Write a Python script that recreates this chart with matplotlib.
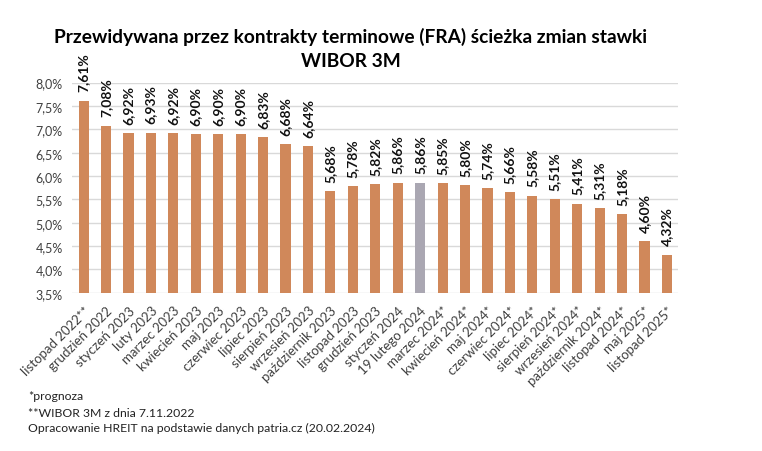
import matplotlib.pyplot as plt

plt.rcParams['font.family'] = ['Lato', 'DejaVu Sans']

# dane
labels = ['listopad 2022**', 'grudzień 2022', 'styczeń 2023', 'luty 2023', 'marzec 2023',
          'kwiecień 2023', 'maj 2023', 'czerwiec 2023', 'lipiec 2023', 'sierpień 2023',
          'wrzesień 2023', 'październik 2023', 'listopad 2023', 'grudzień 2023',
          'styczeń 2024', '19 lutego 2024', 'marzec 2024*', 'kwiecień 2024*', 'maj 2024*',
          'czerwiec 2024*', 'lipiec 2024*', 'sierpień 2024*', 'wrzesień 2024*',
          'październik 2024*', 'listopad 2024*', 'maj 2025*', 'listopad 2025*']
values = [7.61, 7.08, 6.92, 6.93, 6.92, 6.90, 6.90, 6.90, 6.83, 6.68, 6.64, 5.68, 5.78,
          5.82, 5.86, 5.86, 5.85, 5.80, 5.74, 5.66, 5.58, 5.51, 5.41, 5.31, 5.18, 4.60, 4.32]
highlight = '19 lutego 2024'
yticks = [3.5, 4.0, 4.5, 5.0, 5.5, 6.0, 6.5, 7.0, 7.5, 8.0]

orange = '#D0885A'
grey = '#AAA7B2'
colors = [grey if l == highlight else orange for l in labels]

fig = plt.figure(figsize=(7.62, 4.52), dpi=100, facecolor='white')
ax = fig.add_axes([0.095, 0.35, 0.795, 0.465])

x = range(len(values))
ax.bar(x, values, width=0.45, color=colors, zorder=2)
ax.set_ylim(3.5, 8.0)
ax.set_xlim(-0.5, len(values) - 0.5)
ax.set_yticks(yticks)
ax.set_yticklabels([('%.1f%%' % t).replace('.', ',') for t in yticks], fontsize=9, color='#404040')
ax.set_xticks(list(x))
ax.set_xticklabels(labels, rotation=45, ha='right', rotation_mode='anchor', fontsize=9.5, color='#404040')
ax.tick_params(axis='y', length=0, pad=7)
ax.tick_params(axis='x', length=0, pad=8)
ax.grid(axis='y', color='#D9D9D9', linewidth=1, zorder=0)
for s in ax.spines.values():
    s.set_visible(False)

for i, v in enumerate(values):
    ax.text(i, v + 0.2, ('%.2f%%' % v).replace('.', ','), rotation=90, ha='center', va='bottom',
            fontsize=10, fontweight='bold', color='#111111', clip_on=False)

fig.text(0.46, 0.918, 'Przewidywana przez kontrakty terminowe (FRA) ścieżka zmian stawki',
         ha='center', va='center', fontsize=13.8, fontweight='bold')
fig.text(0.46, 0.863, 'WIBOR 3M', ha='center', va='center', fontsize=13.8, fontweight='bold')

fig.text(0.037, 0.122, '*prognoza', fontsize=8.8, color='#222222', va='center')
fig.text(0.037, 0.086, '**WIBOR 3M z dnia 7.11.2022', fontsize=8.8, color='#222222', va='center')
fig.text(0.037, 0.053, 'Opracowanie HREIT na podstawie danych patria.cz (20.02.2024)', fontsize=8.8,
         color='#222222', va='center')

fig.savefig('out.png', dpi=100)
